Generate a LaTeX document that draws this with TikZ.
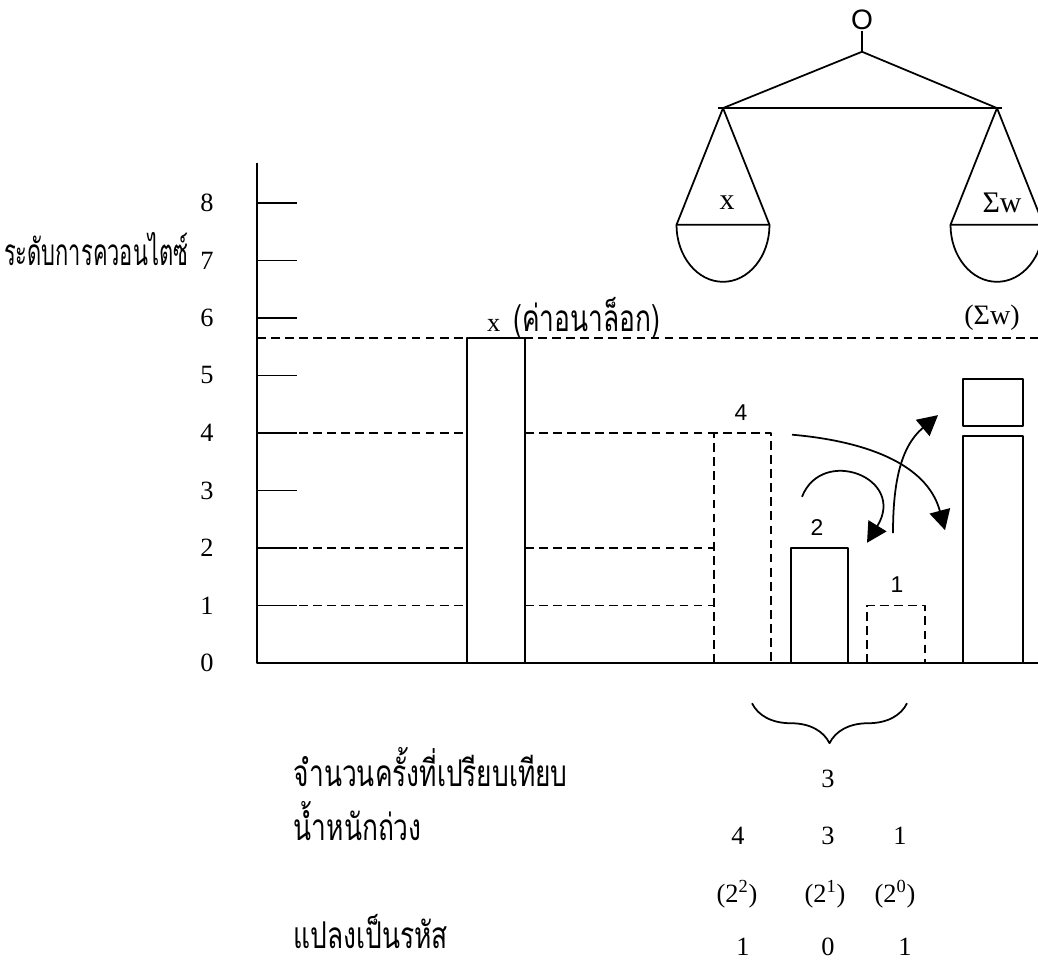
\documentclass[tikz,border=0pt]{standalone}
\usepackage{fontspec}
\setmainfont{Liberation Serif}
\setsansfont{Liberation Sans}
\newfontfamily\thaifont[Script=Thai]{Loma}
\usetikzlibrary{arrows.meta, decorations.pathreplacing, positioning}

% tall, narrow Thai lettering
\newcommand{\thaitall}[2][1]{\scalebox{#1}[1.4]{\thaifont #2}}

\tikzset{
  guide/.style={dash pattern=on 5pt off 3pt},
  barbox/.style={draw},
  lvl/.style={font=\fontsize{15}{18}\selectfont},
  thai/.style={font=\fontsize{15}{18}\selectfont},
  wlab/.style={font=\sffamily\fontsize{13}{15}\selectfont},
  swing/.style={-{Triangle[length=4mm,width=4.2mm]}},
}

\begin{document}
\begin{tikzpicture}[x=1cm, y=1.15cm, line width=1pt, line join=round]
\clip (-5.14,-5.235) rectangle (15.62,11.53);
\fill[white] (-5.14,-5.235) rectangle (15.62,11.53);

% axis, ticks and levels
\draw (0,8.7) -- (0,0) -- (15.62,0);
\node[lvl] (l0) at (-1,0) {0};
\foreach \l in {1,...,8} {
  \draw (0,\l) -- (0.8,\l);
  \node[lvl] (l\l) at (-1,\l) {\l};
}
\node[thai, anchor=base east, inner sep=0pt] (quant) at (-1.36,6.92) {\thaitall[0.83]{ระดับการควอนไตซ์}};

% dashed levels
\draw[guide] (0,5.65) -- (15.62,5.65);
\draw[guide] (0,4) -- (4.2,4) (5.36,4) -- (9.14,4);
\foreach \l in {1,2}
  \draw[guide] (0,\l) -- (4.2,\l) (5.36,\l) -- (9.14,\l);

% bars
\draw[barbox] (4.2,0) rectangle (5.36,5.65);
\draw[barbox, guide] (9.14,0) rectangle (10.28,4);
\draw[barbox] (10.68,0) rectangle (11.82,2);
\draw[barbox, guide] (12.2,0) rectangle (13.36,1);
\draw[barbox] (14.12,0) rectangle (15.32,3.95);
\draw[barbox] (14.12,4.12) rectangle (15.32,4.94);

\node[lvl] (xval) at (6.33,6) {x\ \ \thaitall{(ค่าอนาล็อก)}};
\node[lvl, font=\fontsize{16}{18}\selectfont] (wsum) at (14.7,6) {(Σw)};
\node[wlab] (w4) at (9.68,4.35) {4};
\node[wlab] (w2) at (11.2,2.35) {2};
\node[wlab] (w1) at (12.8,1.36) {1};

% moves between the weights
\coordinate (a1) at (10.7,3.97);
\coordinate (a2) at (13.76,2.31);
\coordinate (b1) at (10.9,2.89);
\coordinate (b2) at (12.2,2.09);
\coordinate (c1) at (12.72,2.26);
\coordinate (c2) at (13.62,4.31);
\draw[swing] (a1) to[out=-5, in=105] (a2);
\draw[swing] (b1) .. controls (11.3,3.78) and (13.0,3.22) .. (b2);
\draw[swing] (c1) to[out=90, in=220] (c2);

% balance
\node[font=\sffamily\fontsize{16}{18}\selectfont, inner sep=0pt] (ring) at (12.1,11.18) {O};
\coordinate (apex) at (12.1,10.63);
\coordinate (lp) at (9.32,9.65);
\coordinate (rp) at (14.8,9.65);
\draw (ring) -- (apex);
\draw (lp) -- (apex) -- (rp);
\draw ([xshift=-0.1cm]lp) -- ([xshift=0.1cm]rp);
\foreach \p in {lp,rp} {
  \draw (\p) -- ++(-0.93,-2.03) coordinate (\p-l) -- ++(1.86,0) coordinate (\p-r) -- (\p);
  \draw (\p-l) arc[start angle=180, end angle=360, x radius=0.93cm, y radius=1.14cm];
}
\node[font=\fontsize{17}{20}\selectfont] (xpan) at (9.4,8) {x};
\node[font=\fontsize{17}{20}\selectfont] (wpan) at (14.9,8) {Σw};

% comparisons and code
\draw[decorate, decoration={brace, mirror, amplitude=0.8cm}] (9.9,-0.7) -- (13,-0.7);
\node[thai, anchor=base west, inner sep=0pt] (count) at (0.72,-2.14) {\thaitall{จำนวนครั้งที่เปรียบเทียบ}};
\node[thai, anchor=base west, inner sep=0pt] (weight) at (0.72,-3.09) {\thaitall{น้ำหนักถ่วง}};
\node[thai, anchor=base west, inner sep=0pt] (code) at (0.72,-4.97) {\thaitall{แปลงเป็นรหัส}};
\node[lvl] (n3) at (11.42,-2.02) {3};
\node[lvl] (g4) at (9.62,-3) {4};
\node[lvl] (g3) at (11.42,-3) {3};
\node[lvl] (g1) at (12.86,-3) {1};
\node[lvl] (p2) at (9.6,-4.02) {(2\textsuperscript{2})};
\node[lvl] (p1) at (11.36,-4.02) {(2\textsuperscript{1})};
\node[lvl] (p0) at (12.76,-4.02) {(2\textsuperscript{0})};
\node[lvl] (d2) at (9.72,-4.94) {1};
\node[lvl] (d1) at (11.42,-4.94) {0};
\node[lvl] (d0) at (12.96,-4.94) {1};
\end{tikzpicture}
\end{document}
